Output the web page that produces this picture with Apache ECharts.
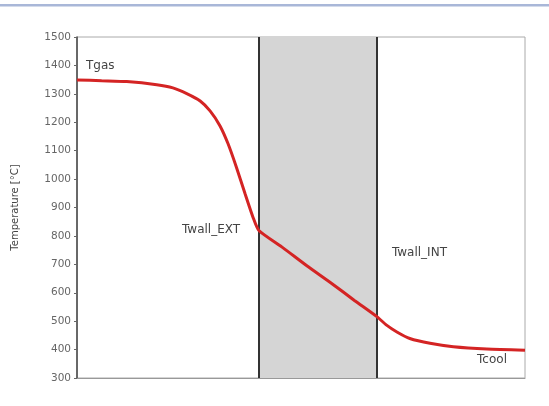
<!DOCTYPE html>
<html><head><meta charset="utf-8">
<script src="https://cdn.jsdelivr.net/npm/echarts@6/dist/echarts.min.js"></script>
<style>html,body{margin:0;padding:0;background:#fff}#c{width:549px;height:406px}</style>
</head><body><div id="c"></div>
<script>
// position through the wall region (0-100), temperature in °C
const xPos = [0, 5.5, 11.1, 17.8, 21.4, 24.5, 27.5, 29.7, 31.9, 33.7, 35.6, 37.5, 39.3, 40.6, 46.0, 51.3, 57.0, 62.0, 67.0, 69.1, 71.4, 74.3, 78.8, 84.0, 91.5, 100];
const temps = [1349, 1346, 1343, 1332, 1321, 1301, 1275, 1240, 1188, 1125, 1041, 949, 865, 819, 758, 695, 631, 572, 515, 486, 462, 439, 422, 410, 402, 398];
const wallExt = 40.6;
const wallInt = 67.0;
const yTicks = {min: 300, max: 1500, step: 100};
const annoNames = ['Tgas', 'Twall_EXT', 'Twall_INT', 'Tcool'];
const annoX = [2.0, 36.4, 70.3, 89.3];
const annoY = [1398, 823, 742, 363];
const annoAlign = ['left', 'right', 'left', 'left'];

const chart = echarts.init(document.getElementById('c'));
chart.setOption({
  animation: false,
  backgroundColor: '#fff',
  graphic: [{type: 'rect', shape: {x: 0, y: 4, width: 549, height: 2.5}, style: {fill: '#a9b7d8'}}],
  grid: {left: 77, right: 24, top: 37, bottom: 28, show: true, borderColor: '#aaaaaa', borderWidth: 1, backgroundColor: 'transparent'},
  xAxis: {type: 'value', min: 0, max: 100, axisLabel: {show: false}, axisTick: {show: false}, splitLine: {show: false},
    axisLine: {lineStyle: {color: '#999', width: 1}}},
  yAxis: {type: 'value', min: yTicks.min, max: yTicks.max, interval: yTicks.step,
    name: 'Temperature [°C]', nameLocation: 'middle', nameGap: 57,
    nameTextStyle: {fontFamily: 'DejaVu Sans', fontSize: 10, color: '#444'},
    axisLine: {show: true, lineStyle: {color: '#444', width: 1.5}},
    axisTick: {show: true, length: 3, lineStyle: {color: '#666'}},
    axisLabel: {fontFamily: 'DejaVu Sans', fontSize: 10.5, color: '#666', margin: 6, formatter: v => String(v)},
    splitLine: {show: false}},
  series: [{
    type: 'line',
    data: xPos.map((x, i) => [x, temps[i]]),
    smooth: 0.2,
    showSymbol: false,
    lineStyle: {color: '#d42424', width: 3},
    z: 5,
    markArea: {silent: true, itemStyle: {color: '#d5d5d5'}, data: [[{xAxis: wallExt}, {xAxis: wallInt}]]},
    markLine: {silent: true, symbol: 'none', label: {show: false}, lineStyle: {color: '#333', width: 2, type: 'solid'},
      data: [{xAxis: wallExt}, {xAxis: wallInt}]},
    markPoint: {silent: true, symbolSize: 0,
      data: annoNames.map((n, i) => ({coord: [annoX[i], annoY[i]], value: n,
        label: {show: true, formatter: n, position: 'inside', align: annoAlign[i], verticalAlign: 'middle',
          fontFamily: 'DejaVu Sans', fontSize: 12, color: '#444'}}))}
  }]
});
</script></body></html>
